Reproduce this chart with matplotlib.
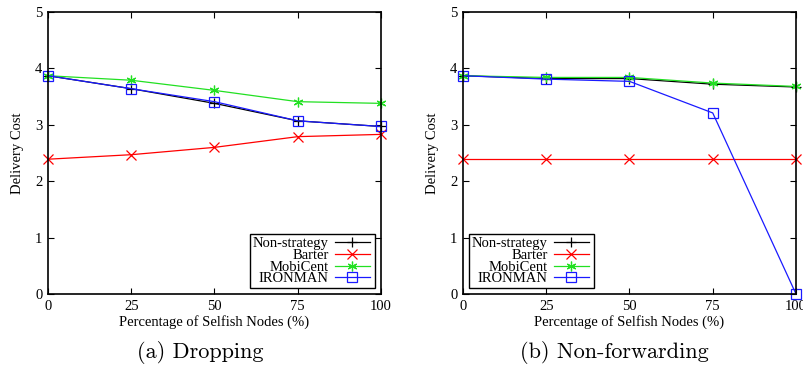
import matplotlib
matplotlib.use("Agg")
import matplotlib.pyplot as plt

selfish = [0, 25, 50, 75, 100]
series_names = ["Non-strategy", "Barter", "MobiCent", "IRONMAN"]

# (a) Dropping
drop_nonstrategy = [3.87, 3.64, 3.38, 3.07, 2.97]
drop_barter = [2.39, 2.47, 2.60, 2.79, 2.83]
drop_mobicent = [3.87, 3.79, 3.61, 3.41, 3.38]
drop_ironman = [3.87, 3.64, 3.41, 3.07, 2.97]

# (b) Non-forwarding
fwd_nonstrategy = [3.87, 3.82, 3.82, 3.72, 3.67]
fwd_barter = [2.39, 2.39, 2.39, 2.39, 2.39]
fwd_mobicent = [3.87, 3.84, 3.84, 3.74, 3.68]
fwd_ironman = [3.87, 3.81, 3.77, 3.21, 0.0]

colors = ["black", "#ff0000", "#22e022", "#1a1aff"]
markers = ["+", "x", (6, 2, 0), "s"]

plt.rcParams["font.family"] = ["Liberation Serif", "DejaVu Serif"]
plt.rcParams["font.size"] = 10.5

fig = plt.figure(figsize=(8.04, 3.69), dpi=100)
ax1 = fig.add_axes([48 / 804, 1 - 294 / 369, 333 / 804, 282 / 369])
ax2 = fig.add_axes([463 / 804, 1 - 294 / 369, 333 / 804, 282 / 369])


def draw_panel(ax, data, legend_x):
    for name, ys, c, m in zip(series_names, data, colors, markers):
        face = "none" if m == "s" else c
        ax.plot(selfish, ys, color=c, marker=m, markersize=7 if m != "s" else 6.5,
                markerfacecolor=face, markeredgewidth=0.9, linewidth=0.9,
                label=name, clip_on=False)
    ax.set_xlim(0, 100)
    ax.set_ylim(0, 5)
    ax.set_xticks(selfish)
    ax.set_yticks([0, 1, 2, 3, 4, 5])
    ax.tick_params(direction="in", top=True, right=True, length=4, width=0.8,
                   labelsize=10.5, pad=4)
    for s in ax.spines.values():
        s.set_linewidth(1.2)
    ax.set_xlabel("Percentage of Selfish Nodes (%)", fontsize=10.5, labelpad=2)
    ax.set_ylabel("Delivery Cost", fontsize=10.5, labelpad=8)
    leg = ax.legend(loc="lower left", bbox_to_anchor=(legend_x, 0.02, 0.375, 0.2),
                    mode="expand", markerfirst=False, fancybox=False,
                    edgecolor="black", framealpha=1, fontsize=10.5,
                    handlelength=2.4, handletextpad=0.4, labelspacing=-0.1,
                    borderpad=0.2, borderaxespad=0)
    leg.get_frame().set_linewidth(1.0)


draw_panel(ax1, [drop_nonstrategy, drop_barter, drop_mobicent, drop_ironman], 0.607)
draw_panel(ax2, [fwd_nonstrategy, fwd_barter, fwd_mobicent, fwd_ironman], 0.018)

fig.text(200 / 804, 1 - 352 / 369, "(a) Dropping", family="cmr10",
         fontsize=16, ha="center", va="center")
fig.text(614 / 804, 1 - 352 / 369, "(b) Non-forwarding", family="cmr10",
         fontsize=16, ha="center", va="center")

fig.savefig("out.png", dpi=100)
